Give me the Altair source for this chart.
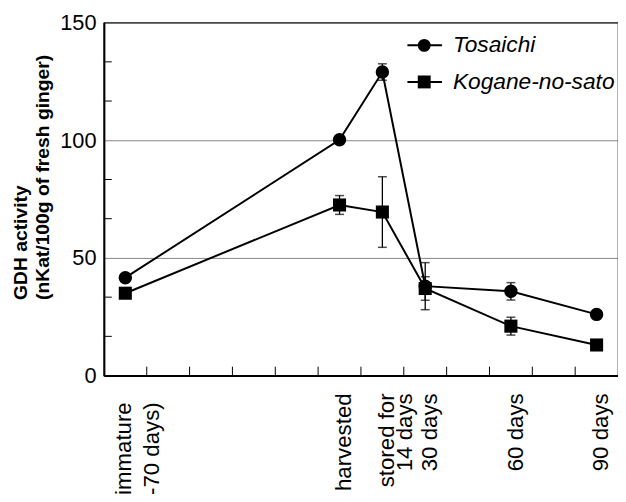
import altair as alt
import pandas as pd

# ---- data ----
stages = ["immature\n(-70 days)", "harvested", "stored for\n14 days", "30 days", "60 days", "90 days"]
slots = [0, 5, 6, 7, 9, 11]          # position on the 12-slot time axis
tosaichi = [41.6, 100.2, 129.0, 38.0, 35.8, 26.0]
tosaichi_err = [0, 0, 3.5, 10.0, 3.7, 0]
kogane = [35.0, 72.5, 69.5, 37.0, 21.0, 13.0]
kogane_err = [0, 4.0, 15.0, 5.0, 3.8, 0]
series_names = ["Tosaichi", "Kogane-no-sato"]
x_tick_values = [0.5, 1.5, 2.5, 3.5, 4.5, 5.5, 6.5, 7.5, 8.5, 9.5, 10.5]
y_minor_ticks = [16.67, 33.33, 66.67, 83.33, 116.67, 133.33]
y_labels = [0, 50, 100, 150]

W, H = 520, 357
FONT = "Liberation Sans"

rows = []
for name, vals, errs in [("Tosaichi", tosaichi, tosaichi_err), ("Kogane-no-sato", kogane, kogane_err)]:
    for st, sl, v, e in zip(stages, slots, vals, errs):
        rows.append({"series": name, "stage": st, "slot": sl, "value": v, "err": e,
                     "lo": v - e, "hi": v + e})
df = pd.DataFrame(rows)
err_df = df[df["err"] > 0]
lab_df = pd.DataFrame({"stage": stages, "slot": slots})
xt_df = pd.DataFrame({"t": x_tick_values})
yt_df = pd.DataFrame({"t": y_minor_ticks})
leg_df = pd.DataFrame({"series": series_names})

xscale = alt.Scale(domain=[-0.5, 11.5], nice=False, zero=False)
yscale = alt.Scale(domain=[0, 150], nice=False)

x_enc = alt.X("slot:Q", scale=xscale,
              axis=alt.Axis(labels=False, ticks=False, grid=False, title=None,
                            domainColor="black", domainWidth=2))
y_enc = alt.Y("value:Q", scale=yscale,
              axis=alt.Axis(values=y_labels, tickSize=0, labelFontSize=22, labelFont=FONT,
                            labelColor="black", labelPadding=8,
                            grid=True, gridColor="#666", gridWidth=0.8,
                            domainColor="black", domainWidth=2,
                            title=["GDH activity", "(nKat/100g of fresh ginger)"],
                            titleFont=FONT, titleFontSize=19.5, titleFontWeight="bold",
                            titleColor="black", titleAngle=270, titleAlign="left",
                            titleBaseline="alphabetic", titleX=-78, titleY=280,
                            titleLineHeight=22, titleLimit=400))

base = alt.Chart(df)

lines = base.mark_line(color="black", strokeWidth=2).encode(
    x=x_enc, y=y_enc, detail="series:N",
    order=alt.Order("slot:Q"))

err_rules = alt.Chart(err_df).mark_rule(color="black", strokeWidth=1.3).encode(
    x=alt.X("slot:Q", scale=xscale), y=alt.Y("lo:Q", scale=yscale), y2="hi:Q")
err_lo = alt.Chart(err_df).mark_tick(color="black", orient="horizontal", size=9, thickness=1.5).encode(
    x=alt.X("slot:Q", scale=xscale), y=alt.Y("lo:Q", scale=yscale))
err_hi = alt.Chart(err_df).mark_tick(color="black", orient="horizontal", size=9, thickness=1.5).encode(
    x=alt.X("slot:Q", scale=xscale), y=alt.Y("hi:Q", scale=yscale))

pts_t = base.transform_filter(alt.datum.series == "Tosaichi").mark_point(
    shape="circle", filled=True, size=185, color="black", opacity=1).encode(
    x=alt.X("slot:Q", scale=xscale), y=alt.Y("value:Q", scale=yscale))
pts_k = base.transform_filter(alt.datum.series == "Kogane-no-sato").mark_point(
    shape="square", filled=True, size=175, color="black", opacity=1).encode(
    x=alt.X("slot:Q", scale=xscale), y=alt.Y("value:Q", scale=yscale))

xticks = alt.Chart(xt_df).mark_rule(color="black", strokeWidth=1).encode(
    x=alt.X("t:Q", scale=xscale), y=alt.value(H), y2=alt.value(H - 9))
yticks = alt.Chart(yt_df).mark_rule(color="black", strokeWidth=1).encode(
    y=alt.Y("t:Q", scale=yscale), x=alt.value(0), x2=alt.value(8))

lab_main = alt.Chart(lab_df).transform_filter(alt.datum.slot > 0).mark_text(
    angle=270, align="right", baseline="middle", fontSize=22.5, font=FONT,
    lineBreak="\n", lineHeight=18, dy=5, color="black").encode(
    x=alt.X("slot:Q", scale=xscale), y=alt.value(H + 18), text="stage:N")
lab_imm = alt.Chart(lab_df).transform_filter(alt.datum.slot == 0).mark_text(
    angle=270, align="right", baseline="middle", fontSize=22.5, font=FONT,
    lineBreak="\n", lineHeight=28, dy=-1, color="black").encode(
    x=alt.X("slot:Q", scale=xscale), y=alt.value(H + 27), text="stage:N")

# manual legend
leg_layers = []
for i, (name, shape) in enumerate([("Tosaichi", "circle"), ("Kogane-no-sato", "square")]):
    ly = 23 + 37 * i
    d = alt.Chart(leg_df).transform_filter(alt.datum.series == name)
    leg_layers.append(d.mark_rule(color="black", strokeWidth=2).encode(
        x=alt.value(307), x2=alt.value(342), y=alt.value(ly)))
    leg_layers.append(d.mark_point(shape=shape, filled=True, size=170, color="black", opacity=1).encode(
        x=alt.value(324), y=alt.value(ly)))
    leg_layers.append(d.mark_text(align="left", baseline="middle", fontSize=23, font=FONT,
                                  fontStyle="italic", color="black").encode(
        x=alt.value(353), y=alt.value(ly), text="series:N"))

chart = alt.layer(lines, err_rules, err_lo, err_hi, pts_t, pts_k, xticks, yticks,
                  lab_main, lab_imm, *leg_layers).properties(
    width=W, height=H,
    autosize=alt.AutoSizeParams(type="none"),
    padding={"left": 97, "top": 12, "right": 0, "bottom": 117},
    background="white",
).configure_view(stroke="black", strokeWidth=1.2)

chart.save("out.html", embed_options={"renderer": "svg", "actions": False})
